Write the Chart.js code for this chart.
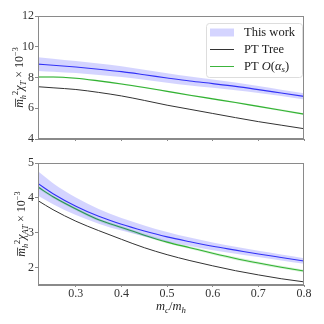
<!DOCTYPE html>
<html><head><meta charset="utf-8">
<script src="https://cdn.jsdelivr.net/npm/chart.js@4/dist/chart.umd.min.js"></script>
<style>
html,body{margin:0;padding:0;background:#fff;width:324px;height:324px;overflow:hidden}
#c1{position:absolute;left:0;top:0}
#c2{position:absolute;left:0;top:150px}
</style></head><body>
<canvas id="c1" width="324" height="150"></canvas>
<canvas id="c2" width="324" height="174"></canvas>
<script>
// ---- data ----
const xValues = [0.217, 0.25, 0.3, 0.35, 0.4, 0.45, 0.5, 0.55, 0.6, 0.65, 0.7, 0.75, 0.8];
// top panel: chi_T x 10^-3
const topWork      = [8.87, 8.80, 8.68, 8.54, 8.38, 8.18, 7.97, 7.77, 7.60, 7.42, 7.21, 6.99, 6.77];
const topWorkUpper = [9.32, 9.22, 9.07, 8.91, 8.73, 8.51, 8.28, 8.06, 7.87, 7.67, 7.45, 7.21, 6.98];
const topWorkLower = [8.43, 8.38, 8.29, 8.17, 8.03, 7.85, 7.66, 7.48, 7.33, 7.17, 6.99, 6.79, 6.57];
const topTree      = [7.40, 7.33, 7.22, 7.03, 6.80, 6.51, 6.20, 5.93, 5.66, 5.39, 5.13, 4.90, 4.67];
const topAlphaS    = [8.03, 8.03, 7.95, 7.78, 7.58, 7.35, 7.10, 6.85, 6.61, 6.37, 6.12, 5.87, 5.62];
const topAlphaSErr = [0.05, 0.05, 0.05, 0.05, 0.05, 0.05, 0.05, 0.05, 0.05, 0.05, 0.06, 0.06, 0.06];
// bottom panel: chi_AT x 10^-3
const botWork      = [4.41, 4.12, 3.76, 3.47, 3.24, 3.05, 2.88, 2.74, 2.61, 2.50, 2.39, 2.29, 2.19];
const botWorkErr   = [0.35, 0.30, 0.25, 0.21, 0.18, 0.16, 0.14, 0.12, 0.11, 0.10, 0.09, 0.085, 0.08];
const botTree      = [3.92, 3.66, 3.33, 3.06, 2.81, 2.57, 2.37, 2.20, 2.05, 1.91, 1.79, 1.68, 1.59];
const botAlphaS    = [4.31, 4.03, 3.68, 3.37, 3.15, 2.93, 2.73, 2.57, 2.41, 2.26, 2.13, 2.01, 1.90];
const botAlphaSErr = [0.04, 0.04, 0.04, 0.04, 0.04, 0.04, 0.04, 0.04, 0.04, 0.04, 0.04, 0.04, 0.04];
// tick labels
const xTicks = [0.3, 0.4, 0.5, 0.6, 0.7, 0.8];
const topYTicks = [4, 6, 8, 10, 12];
const botYTicks = [2, 3, 4, 5];
const legendLabels = ['This work', 'PT Tree', 'PT '];

const SERIF = '"Liberation Serif", "DejaVu Serif", serif';
const BLUE = '#3c3cf5', BAND = 'rgba(0,0,255,0.17)';
const GREEN = '#3cb43c', GBAND = 'rgba(0,170,0,0.16)';
const BLACK = '#333333', AXIS = '#8a8a8a';

const pts = (ys) => xValues.map((x, i) => ({x, y: ys[i]}));
const add = (a, b, s) => a.map((v, i) => +(v + s * b[i]).toFixed(3));

function drawRich(ctx, parts, cx, y, size) {
  const f = p => (p.it ? 'italic ' : '') + (size * (p.s || 1)).toFixed(1) + 'px ' + SERIF;
  let w = 0;
  parts.forEach(p => { ctx.font = f(p); w += ctx.measureText(p.t).width; });
  let x = cx - w / 2;
  parts.forEach(p => {
    ctx.font = f(p);
    const tw = ctx.measureText(p.t).width;
    ctx.fillText(p.t, x, y + (p.dy || 0));
    if (p.bar) {
      ctx.save(); ctx.strokeStyle = ctx.fillStyle; ctx.lineWidth = 0.8;
      ctx.beginPath(); ctx.moveTo(x + 1, y - size * 0.62); ctx.lineTo(x + tw + 0.5, y - size * 0.62); ctx.stroke();
      ctx.restore();
    }
    x += tw;
  });
}

function yLabelParts(sub) {
  return [
    {t: 'm', it: true, bar: true},
    {t: 'h', it: true, s: 0.7, dy: 3},
    {t: '2', s: 0.7, dy: -5},
    {t: 'χ', it: true},
    {t: sub, it: true, s: 0.7, dy: 3},
    {t: ' × 10'},
    {t: '−3', s: 0.7, dy: -5}
  ];
}

function decorPlugin(opts) {
  return {
    id: 'decor',
    afterDraw(chart) {
      const ctx = chart.ctx, a = chart.chartArea;
      ctx.save();
      ctx.strokeStyle = AXIS; ctx.lineWidth = 1;
      ctx.strokeRect(Math.round(a.left) + 0.5, Math.round(a.top) + 0.5, Math.round(a.right - a.left) - 1, Math.round(a.bottom - a.top) - 1);
      ctx.fillStyle = '#222';
      ctx.textBaseline = 'alphabetic';
      // y label
      ctx.save();
      ctx.translate(opts.ylx, (a.top + a.bottom) / 2);
      ctx.rotate(-Math.PI / 2);
      drawRich(ctx, yLabelParts(opts.sub), 0, 4, 12);
      ctx.restore();
      if (opts.xlabel) {
        drawRich(ctx, [
          {t: 'm', it: true}, {t: 'c', it: true, s: 0.7, dy: 2.5},
          {t: '/'}, {t: 'm', it: true}, {t: 'h', it: true, s: 0.7, dy: 2.5}
        ], (a.left + a.right) / 2, opts.xly, 12.5);
      }
      if (opts.legend) {
        const L = {x: 206, y: 23, w: 96, h: 54};
        ctx.fillStyle = 'rgba(255,255,255,0.85)';
        ctx.strokeStyle = '#dddddd';
        ctx.beginPath();
        if (ctx.roundRect) ctx.roundRect(L.x + 0.5, L.y + 0.5, L.w, L.h, 3); else ctx.rect(L.x + 0.5, L.y + 0.5, L.w, L.h);
        ctx.fill(); ctx.stroke();
        const rows = [32.5, 49.5, 66.5];
        ctx.fillStyle = BAND; ctx.fillRect(210, rows[0] - 4, 24, 8);
        ctx.lineWidth = 1;
        ctx.strokeStyle = BLACK; ctx.beginPath(); ctx.moveTo(210, rows[1]); ctx.lineTo(234, rows[1]); ctx.stroke();
        ctx.strokeStyle = GREEN; ctx.beginPath(); ctx.moveTo(210, rows[2]); ctx.lineTo(234, rows[2]); ctx.stroke();
        ctx.fillStyle = '#222';
        ctx.textBaseline = 'middle';
        const FS = '12.5px ', FI = 'italic 12.5px ';
        ctx.font = FS + SERIF;
        ctx.fillText(legendLabels[0], 244, rows[0]);
        ctx.fillText(legendLabels[1], 244, rows[1]);
        let x = 244;
        ctx.fillText(legendLabels[2], x, rows[2]); x += ctx.measureText(legendLabels[2]).width;
        ctx.font = FI + SERIF; ctx.fillText('O', x, rows[2]); x += ctx.measureText('O').width;
        ctx.font = FS + SERIF; ctx.fillText('(', x, rows[2]); x += ctx.measureText('(').width;
        ctx.font = FI + SERIF; ctx.fillText('α', x, rows[2]); x += ctx.measureText('α').width;
        ctx.font = 'italic 9px ' + SERIF; ctx.fillText('s', x, rows[2] + 3); x += ctx.measureText('s').width;
        ctx.font = FS + SERIF; ctx.fillText(')', x, rows[2]);
      }
      ctx.restore();
    }
  };
}

function makeChart(id, cfg) {
  const line = (data, color, w, extra) => Object.assign({
    data: pts(data), borderColor: color, borderWidth: w, pointRadius: 0,
    cubicInterpolationMode: 'monotone', fill: false
  }, extra || {});
  const datasets = [
    line(cfg.upper, 'rgba(0,0,0,0)', 0, {fill: '+1', backgroundColor: BAND}),
    line(cfg.lower, 'rgba(0,0,0,0)', 0),
    line(cfg.gUpper, 'rgba(0,0,0,0)', 0, {fill: '+1', backgroundColor: GBAND}),
    line(cfg.gLower, 'rgba(0,0,0,0)', 0),
    line(cfg.tree, BLACK, 1),
    line(cfg.alpha, GREEN, 1.1),
    line(cfg.work, BLUE, 1.1)
  ];
  return new Chart(document.getElementById(id), {
    type: 'line',
    data: {datasets},
    options: {
      responsive: false, animation: false, devicePixelRatio: 1,
      layout: {padding: {top: cfg.padTop, right: 20, left: 0, bottom: 0}},
      plugins: {legend: {display: false}, tooltip: {enabled: false}},
      scales: {
        x: {
          type: 'linear', min: 0.217, max: 0.8,
          afterBuildTicks: s => { s.ticks = xTicks.map(v => ({value: v})); },
          afterFit: s => { s.height = cfg.xh; },
          grid: {display: true, drawOnChartArea: false, drawTicks: true, tickLength: 2, color: AXIS},
          border: {display: true, color: AXIS},
          ticks: {display: cfg.xlabels, padding: 0, color: '#333', font: {family: SERIF, size: 12},
                  callback: v => v.toFixed(1), maxRotation: 0}
        },
        y: {
          type: 'linear', min: cfg.ymin, max: cfg.ymax,
          afterBuildTicks: s => { s.ticks = cfg.yticks.map(v => ({value: v})); },
          afterFit: s => { s.width = 38; },
          grid: {display: true, drawOnChartArea: false, drawTicks: true, tickLength: 3, color: AXIS},
          border: {display: true, color: AXIS},
          ticks: {padding: 1, color: '#333', font: {family: SERIF, size: 12}, callback: v => String(v)}
        }
      }
    },
    plugins: [decorPlugin(cfg.decor)]
  });
}

makeChart('c1', {
  upper: topWorkUpper, lower: topWorkLower,
  gUpper: add(topAlphaS, topAlphaSErr, 1), gLower: add(topAlphaS, topAlphaSErr, -1),
  tree: topTree, alpha: topAlphaS, work: topWork,
  padTop: 16, xh: 11, xlabels: false, ymin: 4, ymax: 12, yticks: topYTicks,
  decor: {sub: 'T', ylx: 19, legend: true}
});
makeChart('c2', {
  upper: add(botWork, botWorkErr, 1), lower: add(botWork, botWorkErr, -1),
  gUpper: add(botAlphaS, botAlphaSErr, 1), gLower: add(botAlphaS, botAlphaSErr, -1),
  tree: botTree, alpha: botAlphaS, work: botWork,
  padTop: 13, xh: 39, xlabels: true, ymin: 1.5, ymax: 5, yticks: botYTicks,
  decor: {sub: 'AT', ylx: 21, xlabel: true, xly: 160}
});
</script>
</body></html>
